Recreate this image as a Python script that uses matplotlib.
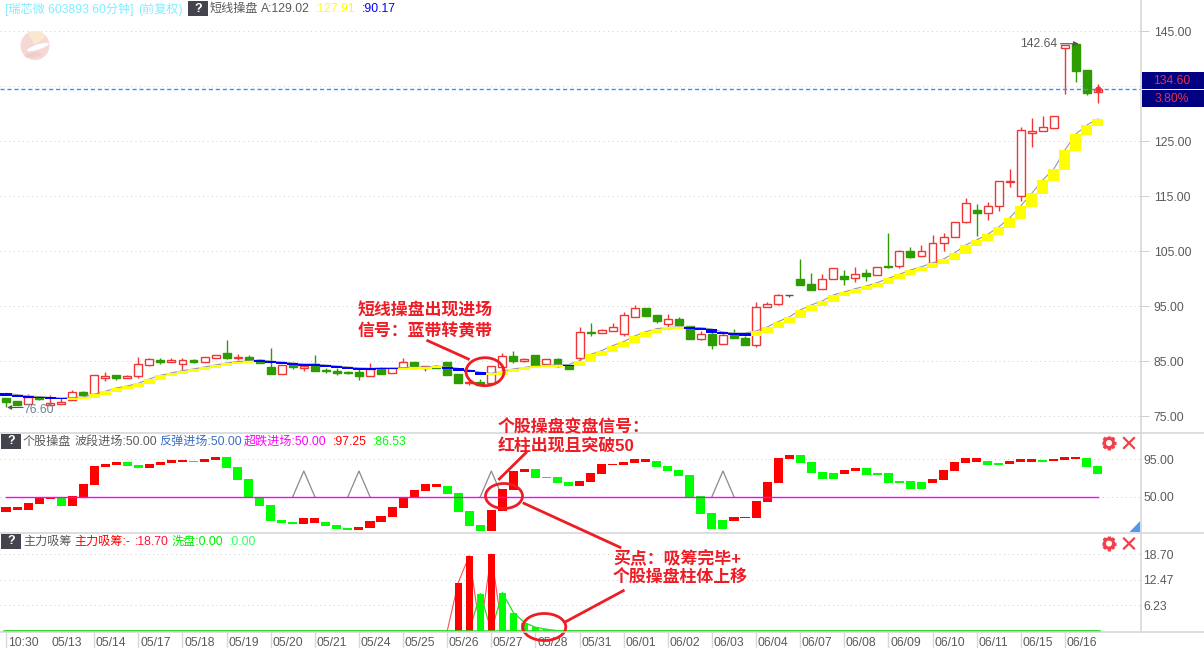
"""60-minute candle chart with two indicator panels and hand-drawn red notes."""
import matplotlib
matplotlib.use("Agg")
import matplotlib.pyplot as plt
import numpy as np
from matplotlib.patches import Circle, Ellipse, Polygon, Rectangle, Wedge

plt.rcParams["font.family"] = ["Liberation Sans", "Noto Sans CJK SC", "DejaVu Sans"]

W, H = 1204, 648

# main panel: candles
opens = [78.33, 77.79, 77.30, 78.51, 77.06, 77.30, 77.91, 79.42, 79.00, 82.03,
         82.51, 82.03, 82.33, 84.39, 85.24, 84.94, 84.57, 85.24, 84.94, 85.67,
         86.51, 85.60, 85.79, 85.24, 83.97, 82.76, 84.33, 83.85, 84.45, 83.48,
         83.24, 83.12, 83.06, 82.39, 83.79, 82.82, 83.72, 84.93, 83.78, 84.14,
         84.93, 82.69, 81.05, 81.23, 81.11, 84.02, 85.96, 85.11, 86.14, 84.44,
         85.42, 84.26, 85.54, 90.26, 90.20, 90.57, 90.02, 93.11, 94.69, 93.35,
         91.84, 92.69, 91.41, 89.11, 89.96, 88.20, 89.78, 89.29, 88.02, 94.81,
         95.48, 96.99, 99.96, 98.99, 98.08, 99.90, 100.51, 100.08, 100.99, 100.63,
         102.33, 102.27, 104.99, 104.08, 102.81, 106.45, 107.67, 110.27, 112.52, 111.91,
         113.18, 117.61, 115.00, 126.58, 126.82, 127.36, 141.91, 142.64, 137.97, 133.91]
highs = [78.33, 77.79, 79.06, 78.76, 78.88, 78.27, 79.79, 79.67, 82.45, 83.06,
         82.51, 82.45, 85.79, 85.54, 85.60, 85.54, 85.54, 85.42, 85.79, 86.09,
         88.88, 86.39, 86.09, 85.48, 87.42, 84.33, 84.64, 84.27, 86.15, 83.73,
         83.85, 83.30, 83.73, 84.76, 84.03, 83.79, 85.54, 84.93, 84.20, 84.26,
         84.93, 82.69, 81.72, 81.78, 84.08, 86.45, 86.87, 85.60, 86.14, 85.36,
         85.60, 84.26, 91.17, 91.96, 90.87, 91.90, 93.90, 95.23, 94.69, 93.35,
         93.60, 92.99, 91.41, 90.45, 90.81, 90.38, 90.87, 89.60, 95.78, 95.78,
         97.23, 96.99, 103.60, 101.05, 100.81, 101.90, 101.60, 102.08, 101.78, 102.20,
         108.33, 105.17, 105.72, 106.14, 107.96, 108.26, 110.27, 114.64, 113.61, 113.97,
         117.73, 119.91, 127.54, 129.18, 129.60, 129.54, 142.57, 142.64, 137.97, 135.42]
lows = [76.60, 77.06, 77.30, 77.97, 77.06, 77.30, 77.91, 78.70, 79.00, 81.42,
        81.60, 81.97, 81.97, 84.15, 84.57, 84.88, 83.42, 84.70, 84.94, 85.67,
        85.42, 85.24, 85.06, 84.64, 82.76, 82.76, 83.61, 83.24, 83.30, 82.82,
        82.57, 82.64, 81.60, 82.39, 82.76, 82.82, 83.72, 83.72, 83.23, 83.72,
        82.51, 81.05, 80.75, 80.69, 80.99, 82.51, 84.75, 84.93, 84.32, 84.44,
        83.96, 83.66, 85.05, 89.66, 90.14, 90.57, 89.66, 93.11, 93.29, 92.02,
        90.99, 91.60, 89.11, 88.93, 87.23, 88.20, 89.29, 88.02, 87.66, 94.81,
        95.29, 96.75, 98.87, 97.96, 98.08, 99.90, 98.87, 99.48, 99.66, 100.63,
        102.02, 102.02, 103.84, 104.08, 102.81, 105.11, 107.67, 110.09, 107.85, 110.70,
        112.40, 116.76, 114.15, 124.03, 126.82, 127.36, 133.67, 135.85, 133.48, 132.03]
closes = [77.67, 77.06, 78.51, 78.21, 77.42, 77.60, 79.36, 78.88, 82.45, 82.33,
          81.97, 82.33, 84.45, 85.42, 84.94, 85.24, 85.18, 84.94, 85.79, 86.09,
          85.60, 85.85, 85.06, 84.76, 82.76, 84.33, 83.97, 84.15, 83.30, 83.18,
          82.94, 82.82, 82.33, 83.55, 82.76, 83.79, 84.93, 83.72, 84.08, 83.78,
          82.51, 81.05, 81.23, 80.69, 84.08, 85.90, 85.05, 85.42, 84.32, 85.36,
          84.20, 83.66, 90.26, 90.14, 90.63, 91.17, 93.35, 94.63, 93.29, 92.32,
          92.63, 91.60, 89.11, 89.90, 88.02, 89.72, 89.29, 88.02, 94.81, 95.35,
          96.99, 96.99, 98.87, 97.96, 99.90, 101.90, 100.02, 100.93, 100.57, 102.20,
          102.14, 104.99, 104.02, 105.11, 106.45, 107.66, 110.27, 113.73, 112.03, 113.18,
          117.73, 117.79, 127.00, 126.88, 127.54, 129.54, 142.57, 137.85, 133.85, 134.45]

# main panel: yellow / blue ribbon
band_hi = [79.18, 78.94, 78.70, 78.58, 78.45, 78.33, 78.39, 78.51, 79.00, 79.54,
           80.15, 80.51, 81.00, 81.79, 82.45, 82.88, 83.30, 83.60, 83.97, 84.33,
           84.70, 84.94, 85.06, 85.24, 85.06, 84.88, 84.70, 84.51, 84.51, 84.33,
           84.15, 83.97, 83.79, 83.73, 83.79, 83.79, 83.84, 83.90, 83.96, 84.08,
           83.96, 83.72, 83.42, 83.00, 82.81, 83.23, 83.60, 83.90, 84.14, 84.26,
           84.39, 84.39, 85.11, 86.26, 86.93, 87.84, 88.57, 89.60, 90.38, 90.93,
           91.17, 91.23, 91.23, 91.11, 90.87, 90.32, 90.14, 90.14, 90.51, 91.23,
           92.20, 93.05, 94.33, 95.24, 95.96, 97.05, 97.60, 98.21, 98.69, 99.30,
           100.08, 100.81, 101.60, 102.20, 102.87, 103.60, 104.69, 106.14, 107.05, 108.08,
           109.42, 111.06, 113.24, 115.55, 117.97, 119.97, 123.42, 126.33, 127.97, 129.06]
band_lo = [78.70, 78.58, 78.39, 78.27, 78.15, 78.15, 78.03, 78.15, 78.33, 78.82,
           79.42, 79.91, 80.27, 80.94, 81.60, 82.27, 82.76, 83.06, 83.42, 83.79,
           84.15, 84.51, 84.64, 84.88, 84.70, 84.51, 84.33, 84.21, 84.15, 84.03,
           83.79, 83.67, 83.48, 83.48, 83.54, 83.54, 83.42, 83.60, 83.66, 83.72,
           83.60, 83.23, 83.00, 82.51, 82.45, 82.45, 83.11, 83.42, 83.72, 83.90,
           84.02, 84.14, 84.14, 84.93, 85.96, 86.75, 87.54, 88.26, 89.41, 90.20,
           90.69, 90.87, 90.87, 90.69, 90.14, 89.96, 89.84, 89.66, 89.66, 90.14,
           91.11, 91.96, 92.93, 94.20, 95.05, 95.78, 96.81, 97.42, 97.96, 98.51,
           99.05, 99.96, 100.69, 101.48, 101.90, 102.69, 103.42, 104.51, 105.96, 106.93,
           107.96, 109.30, 110.88, 113.06, 115.49, 117.79, 119.85, 123.24, 126.15, 127.85]
band_blue = [*range(0, 6), *range(23, 36), *range(40, 44), 51, *range(62, 68)]
price_ticks = [145, 135, 125, 115, 105, 95, 85, 75]
last_price = 134.45

# second panel
swing_top = [37.2, 37.2, 42.4, 48.0, 50.0, 49.6, 50.4, 65.2, 86.9, 89.3,
             91.7, 91.7, 88.1, 89.3, 91.7, 94.1, 94.1, 93.3, 95.3, 97.7,
             97.7, 85.7, 70.9, 49.6, 40.0, 21.9, 19.9, 24.3, 24.3, 19.5,
             15.9, 12.3, 13.5, 20.7, 26.7, 37.6, 48.7, 58.0, 65.2, 65.2,
             62.8, 53.9, 32.7, 15.9, 33.9, 59.2, 80.8, 83.2, 83.2, 73.6,
             73.6, 67.6, 68.8, 78.4, 89.2, 89.6, 91.6, 95.2, 95.2, 92.8,
             86.8, 82.0, 76.0, 50.7, 30.3, 21.9, 25.5, 25.5, 44.7, 67.6,
             96.5, 100.0, 100.0, 91.7, 79.7, 78.5, 82.1, 84.5, 84.5, 78.5,
             78.5, 68.8, 68.8, 67.6, 71.3, 82.1, 91.7, 96.5, 96.5, 92.9,
             90.5, 92.9, 95.3, 95.3, 94.1, 95.3, 97.7, 97.7, 96.5, 86.9]
swing_bot = [32.0, 34.0, 34.0, 41.2, 47.6, 39.2, 39.2, 50.0, 64.0, 85.7,
             88.5, 87.3, 84.9, 84.5, 88.5, 90.9, 92.1, 92.1, 92.1, 94.5,
             84.9, 70.0, 48.8, 39.2, 21.1, 18.3, 17.5, 17.5, 18.7, 14.7,
             11.5, 10.3, 10.3, 12.7, 19.9, 25.9, 36.7, 48.7, 57.2, 62.0,
             53.5, 31.9, 15.1, 9.0, 9.0, 33.1, 58.4, 80.0, 72.4, 72.4,
             66.8, 63.2, 63.2, 68.0, 77.6, 88.4, 88.4, 90.8, 92.0, 86.0,
             80.8, 74.8, 49.5, 29.5, 11.4, 11.4, 21.1, 24.3, 24.7, 43.9,
             66.8, 95.7, 90.8, 78.9, 71.3, 71.3, 77.3, 80.9, 76.1, 76.1,
             66.4, 66.4, 59.2, 59.2, 66.4, 70.0, 80.9, 90.5, 91.7, 88.1,
             88.1, 89.3, 91.7, 91.7, 91.7, 92.9, 94.1, 95.3, 85.7, 77.3]
swing_kind = ("rrrrrgrrrrrggrrrrgrrgggggggrrgggrrrrrrrrggggrrrrggggrrrrrrr"
              "gggggggrrrrrrggggrrggggggrrrrrggrrrgrrrgg")
swing_signal = [27, 32, 44, 65]
swing_peak = 80.9
swing_level = 50.0
swing_ticks = [95, 50]

# third panel
inflow_idx = [41, 42, 44]
inflow_val = [11.78, 18.34, 18.70]
washout_idx = [43, 45, 46, 47, 48, 49, 50]
washout_val = [9.11, 9.35, 4.49, 2.07, 0.93, 0.44, 0.10]
flow_ticks = [18.70, 12.47, 6.23]

# time axis
date_idx = [0, 4, 8, 12, 16, 20, 24, 28, 32, 36, 40, 44, 48, 52, 56, 60, 64, 68, 72, 76, 80, 84, 88, 92, 96]
date_labels = ["10:30", "05/13", "05/14", "05/17", "05/18", "05/19", "05/20", "05/21", "05/24",
               "05/25", "05/26", "05/27", "05/28", "05/31", "06/01", "06/02", "06/03", "06/04",
               "06/07", "06/08", "06/09", "06/10", "06/11", "06/15", "06/16"]

RED, GREEN = "#f03535", "#2d9c00"
GRID = "#cfcfcf"
TEXT = "#5a5a5a"
PX = 0.72  # one pixel in points at dpi 100
X_LIM = (-6 / 11.03, 1134.5 / 11.03)
xs = np.arange(len(opens))


def panel(top, bottom, ylim):
    ax = fig.add_axes([0, 1 - bottom / H, 1140.5 / W, (bottom - top) / H])
    ax.set_xlim(*X_LIM)
    ax.set_ylim(*ylim)
    ax.patch.set_alpha(0)
    for spine in ax.spines.values():
        spine.set_visible(False)
    ax.set_xticks([])
    ax.yaxis.tick_right()
    ax.grid(axis="y", color=GRID, linewidth=PX, linestyle=(0, (1, 3.5)))
    ax.set_axisbelow(True)
    return ax


fig = plt.figure(figsize=(W / 100, H / 100), dpi=100, facecolor="white")

# ---- candles ----
ax = panel(0, 432.5, (72.05, 150.69))
ax.set_yticks(price_ticks)
ax.set_yticklabels([f"{t:.2f}" if t != 135 else "" for t in price_ticks], fontsize=8.7, color=TEXT)
ax.tick_params(axis="y", length=6, width=PX, color=GRID, pad=3.5)

for i in xs:
    up = closes[i] > opens[i]
    flat = closes[i] == opens[i]
    col = "#555555" if flat else (RED if up else GREEN)
    ax.vlines(i, lows[i], highs[i], color=col, linewidth=1, zorder=2)
    lo, hi = min(opens[i], closes[i]), max(opens[i], closes[i])
    ax.add_patch(Rectangle((i - 0.36, lo), 0.72, hi - lo, facecolor="white" if up else col,
                           edgecolor=col, linewidth=1, zorder=2.1))

# thin line of the ribbon's upper edge, mostly hidden behind it
ax.plot(xs, band_hi, color="#999999", linewidth=0.8, zorder=2.5)
band_cols = ["#0000ff" if i in band_blue else "#ffff00" for i in xs]
ax.bar(xs, np.array(band_hi) - np.array(band_lo), bottom=band_lo, width=1.0, color=band_cols,
       linewidth=0, zorder=3)

ax.axhline(last_price, color="#3d94f0", linewidth=1, linestyle=(0, (3, 2)), zorder=4)
ax.plot(xs[-1], last_price, "o", color=RED, markersize=3.5, zorder=5)

hi_i = int(np.argmax(highs))
ax.annotate(f"{highs[hi_i]:.2f}", xy=(hi_i, highs[hi_i]), xytext=(-56, 0), textcoords="offset pixels",
            fontsize=8.7, color=TEXT, ha="left", va="center", annotation_clip=False)
ax.annotate("", xy=(hi_i + 0.25, highs[hi_i] + 0.1), xytext=(hi_i - 1.4, highs[hi_i] + 0.1), zorder=5,
            arrowprops=dict(arrowstyle="-|>", color="#555555", linewidth=0.8, mutation_scale=7, shrinkA=0, shrinkB=0))
lo_i = int(np.argmin(lows))
ax.annotate(f"{lows[lo_i]:.2f}", xy=(lo_i, lows[lo_i]), xytext=(17, -2.5), textcoords="offset pixels",
            fontsize=8.7, color="#708090", ha="left", va="center")
ax.annotate("", xy=(lo_i + 0.1, lows[lo_i]), xytext=(lo_i + 1.55, lows[lo_i]), zorder=5,
            arrowprops=dict(arrowstyle="-|>", color="#555555", linewidth=0.8, mutation_scale=6, shrinkA=0, shrinkB=0))

# ---- swing panel ----
ax2 = panel(432.5, 532.5, (6.92, 127.25))
ax2.set_yticks(swing_ticks)
ax2.set_yticklabels([f"{t:.2f}" for t in swing_ticks], fontsize=8.7, color=TEXT)
ax2.tick_params(axis="y", length=0, pad=2)
swing_cols = ["#ff0000" if k == "r" else "#00ff00" for k in swing_kind]
ax2.bar(xs, np.array(swing_top) - np.array(swing_bot), bottom=swing_bot, width=0.82, color=swing_cols,
        linewidth=0, zorder=3)
ax2.plot([xs[0], xs[-1]], [swing_level, swing_level], color="#ff00ff", linewidth=1, zorder=3.5)
for i in swing_signal:
    ax2.plot([i - 1, i, i + 1], [swing_level, swing_peak, swing_level], color="#8a8a8a", linewidth=0.9, zorder=2.5)

# ---- accumulation panel ----
ax3 = panel(532.5, 632.3, (-0.3, 23.95))
ax3.set_yticks(flow_ticks)
ax3.set_yticklabels([f"{t:.2f}" for t in flow_ticks], fontsize=8.7, color=TEXT)
ax3.tick_params(axis="y", length=0, pad=2)
inflow = np.zeros(len(xs))
inflow[inflow_idx] = inflow_val
washout = np.zeros(len(xs))
washout[washout_idx] = washout_val
ax3.plot(xs, inflow, color="#ff5050", linewidth=0.8, zorder=2)
ax3.plot(xs, washout, color="#22dd22", linewidth=0.9, zorder=2.2)
ax3.bar(xs, inflow, width=0.64, color="#ff0000", linewidth=0, zorder=3)
ax3.bar(xs, washout, width=0.64, color="#00ff00", linewidth=0, zorder=3)
ax3.hlines(0, xs[0] - 0.27, xs[-1] + 0.27, color="#22dd22", linewidth=1.1, zorder=3.5)
ax3.set_xticks([d for d in date_idx if d != 4])
ax3.set_xticklabels([])
ax3.tick_params(axis="x", length=11.5, width=1, color="#d8d8d8")
for d, lab in zip(date_idx, date_labels):
    ax3.annotate(lab, xy=(d, 0), xycoords=("data", "axes fraction"), xytext=(1.2, -7.6),
                 textcoords="offset points", fontsize=8.7, color=TEXT, ha="left", va="center",
                 annotation_clip=False)

# ---- overlay in pixel space: frame, headers, notes ----
ov = fig.add_axes([0, 0, 1, 1], zorder=10)
ov.set_xlim(0, W)
ov.set_ylim(H, 0)
ov.axis("off")

for y in (432.7, 532.5, 632.3):
    ov.plot([0, W], [y, y], color="#d5d5d5", linewidth=1.1)
ov.plot([1140.7, 1140.7], [0, 632.3], color="#d5d5d5", linewidth=1.1)

# price tag
ov.add_patch(Rectangle((1141.5, 72), W - 1141.5, 17, color="#000080", linewidth=0))
ov.add_patch(Rectangle((1141.5, 90), W - 1141.5, 17, color="#000080", linewidth=0))
ov.text(1172, 80.5, "134.60", color="#e8304a", fontsize=8.7, ha="center", va="center")
ov.text(1172, 98.5, "3.80%", color="#e8304a", fontsize=8.7, ha="center", va="center")

# logo
ov.add_patch(Circle((35, 45.5), 14.5, color="#f5d8d4", linewidth=0))
ov.add_patch(Wedge((35, 45.5), 14.5, 240, 320, color="#f9e8d0", linewidth=0))
ov.add_patch(Ellipse((38, 47), 23, 5, angle=-18, color="white", linewidth=0))
ov.add_patch(Ellipse((33, 55), 17, 5, angle=-8, color="#f0cdc9", linewidth=0))


def head(x, y, s, color=TEXT):
    ov.text(x, y, s, color=color, fontsize=8.7, ha="left", va="center")


def help_box(x, y):
    ov.add_patch(Rectangle((x, y), 20, 15, color="#44444e", linewidth=0))
    ov.text(x + 10, y + 7.5, "?", color="white", fontsize=9, fontweight="bold", ha="center", va="center")


ROW1, ROW2, ROW3 = 9, 442, 542
head(5, ROW1, "[瑞芯微 603893 60分钟]", "#7feeff")
head(138, ROW1, "(前复权)", "#7feeff")
help_box(188, 1)
head(210, ROW1, "短线操盘")
head(261, ROW1, "A:129.02")
head(315, ROW1, ":127.91", "#ffff00")
head(362, ROW1, ":90.17", "#0000ff")

help_box(1, 434)
head(23, ROW2, "个股操盘")
head(75, ROW2, "波段进场:50.00")
head(159, ROW2, "反弹进场:50.00", "#3a6fc0")
head(244, ROW2, "超跌进场:50.00", "#ff00ff")
head(333, ROW2, ":97.25", "#ff0000")
head(373, ROW2, ":86.53", "#00ff00")

help_box(1, 534)
head(23, ROW3, "主力吸筹")
head(74, ROW3, "主力吸筹:-", "#ff0000")
head(135, ROW3, ":18.70", "#ff1040")
head(172, ROW3, "洗盘:0.00", "#00ee00")
head(229, ROW3, ":0.00", "#33ff66")


def gear_and_close(cy):
    gear = "#f2404a"
    for a in np.arange(8) * np.pi / 4:
        ov.plot([1109 + 4 * np.cos(a), 1109 + 7.4 * np.cos(a)], [cy + 4 * np.sin(a), cy + 7.4 * np.sin(a)],
                color=gear, linewidth=2.4, solid_capstyle="butt")
    ov.add_patch(Circle((1109, cy), 4.6, facecolor="white", edgecolor=gear, linewidth=2.2))
    ov.plot([1124, 1134], [cy - 5, cy + 5], color=gear, linewidth=1.6)
    ov.plot([1124, 1134], [cy + 5, cy - 5], color=gear, linewidth=1.6)


gear_and_close(443)
gear_and_close(543.5)
ov.add_patch(Polygon([(1129.5, 532), (1140.2, 521), (1140.2, 532)], color="#4d9bf0", linewidth=0))

# red notes
NOTE = "#ee1c25"
for x, y, s in [(358, 311, "短线操盘出现进场"), (358, 331, "信号：蓝带转黄带"),
                (498, 427, "个股操盘变盘信号："), (498, 446, "红柱出现且突破50"),
                (613, 559, "买点：吸筹完毕+"), (613, 578, "个股操盘柱体上移")]:
    ov.text(x, y, s, color=NOTE, fontsize=12.2, fontweight="bold", ha="left", va="center")
for cx, cy, w, h in [(485, 371.7, 38, 28), (504, 496, 37, 25), (544.3, 627, 43, 27)]:
    ov.add_patch(Ellipse((cx, cy), w, h, fill=False, edgecolor=NOTE, linewidth=2))
for x0, y0, x1, y1 in [(427.7, 340.7, 468.3, 359), (526, 452.7, 499.3, 479),
                       (524, 503.3, 620, 547.3), (565.7, 621.7, 623.3, 590.7)]:
    ov.plot([x0, x1], [y0, y1], color=NOTE, linewidth=2)

fig.savefig("out.png", dpi=100)
